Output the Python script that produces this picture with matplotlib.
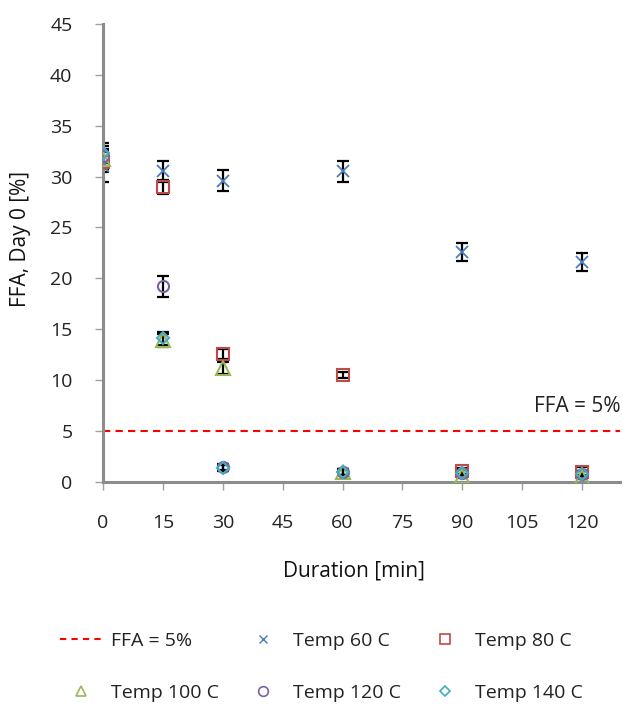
import numpy as np
import matplotlib.pyplot as plt
from matplotlib.lines import Line2D

plt.rcParams.update({
    "font.family": ["Open Sans", "DejaVu Sans"],
    "font.size": 14,
})

duration = [0, 15, 30, 60, 90, 120]

ffa_60 = [31.0, 30.5, 29.6, 30.5, 22.6, 21.6]
err_60 = [1.5, 1.0, 1.0, 1.0, 0.9, 0.9]
ffa_80 = [31.4, 29.0, 12.6, 10.5, 1.1, 1.0]
err_80 = [1.0, 0.7, 0.5, 0.3, 0.3, 0.5]
ffa_100 = [31.7, 13.9, 11.2, 1.0, 0.6, 0.5]
err_100 = [1.0, 0.6, 0.6, 0.3, 0.2, 0.2]
ffa_120 = [32.0, 19.2, 1.5, 1.0, 0.9, 0.8]
err_120 = [1.0, 1.0, 0.3, 0.3, 0.3, 0.3]
ffa_140 = [32.3, 14.1, 1.4, 1.0, 0.9, 0.8]
err_140 = [1.0, 0.6, 0.3, 0.3, 0.3, 0.3]

limit = 5
grey = "#8c8c8c"

fig = plt.figure(figsize=(6.23, 7.06), dpi=100)
ax = fig.add_axes([0.1653, 0.3173, 0.8300, 0.6490])

series = [
    (ffa_60, err_60, "x", "#4a7ebb", "Temp 60 C", 8),
    (ffa_80, err_80, "s", "#be4b48", "Temp 80 C", 8),
    (ffa_100, err_100, "^", "#98b954", "Temp 100 C", 10),
    (ffa_120, err_120, "o", "#7d60a0", "Temp 120 C", 8),
    (ffa_140, err_140, "D", "#46aac5", "Temp 140 C", 6),
]

handles = {}
for y, e, m, c, lab, ms in series:
    ax.errorbar(duration, y, yerr=e, fmt="none", ecolor="black",
                elinewidth=1.6, capsize=4, capthick=1.6, zorder=2)
    if m == "x":
        ax.plot(duration, y, ls="none", marker=m, color=c, ms=ms, mew=1.3, zorder=3)
        handles[lab] = Line2D([], [], ls="none", marker=m, color=c, ms=6, mew=1.0)
    else:
        ax.plot(duration, y, ls="none", marker=m, mfc="none", mec=c, ms=ms, mew=1.5, zorder=3)
        handles[lab] = Line2D([], [], ls="none", marker=m, mfc="none", mec=c,
                              ms=7 if m != "D" else 5, mew=1.2)

ax.axhline(limit, color="#ff0000", ls=(0, (3.5, 2.5)), lw=1.5, zorder=1)
ax.text(129.6, 7.4, "FFA = 5%", ha="right", va="center", fontsize=15, color="#222222")
handles["FFA = 5%"] = Line2D([], [], color="#ff0000", ls=(0, (3, 2.5)), lw=1.5)

ax.set_xlim(0, 129.5)
ax.set_ylim(0, 45)
ax.set_xticks(np.arange(0, 121, 15))
ax.set_yticks(np.arange(0, 46, 5))
for s in ["top", "right"]:
    ax.spines[s].set_visible(False)
for s in ["left", "bottom"]:
    ax.spines[s].set_color(grey)
    ax.spines[s].set_linewidth(2.2)
ax.tick_params(axis="both", colors="#a0a0a0", labelcolor="#222222", length=6,
               width=1.0, labelsize=14)
ax.tick_params(axis="x", pad=17)
ax.tick_params(axis="y", pad=16)
ax.set_xlabel("Duration [min]", fontsize=15, color="#111111")
ax.set_ylabel("FFA, Day 0 [%]", fontsize=15, color="#111111")
ax.xaxis.set_label_coords(0.485, -0.172)
ax.yaxis.set_label_coords(-0.14, 0.53)

order = ["FFA = 5%", "Temp 100 C", "Temp 60 C", "Temp 120 C", "Temp 80 C", "Temp 140 C"]
fig.legend([handles[k] for k in order], order, ncol=3, frameon=False,
           loc="center", bbox_to_anchor=(0.516, 0.055), fontsize=14,
           handlelength=2.1, columnspacing=1.2, labelspacing=1.75,
           handletextpad=0.5, labelcolor="#222222")

fig.savefig("out.png", dpi=100)
